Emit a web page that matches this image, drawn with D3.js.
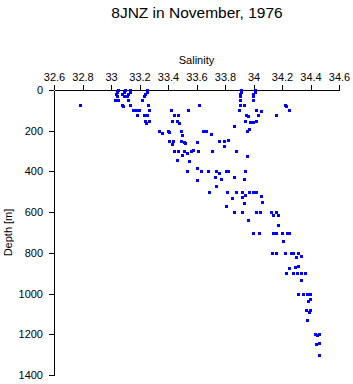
<!DOCTYPE html>
<html>
<head>
<meta charset="utf-8">
<script src="https://cdn.jsdelivr.net/npm/d3@7"></script>
<style>
  body { margin: 0; background: #fff; }
  svg { font-family: "Liberation Sans", Arial, Helvetica, sans-serif; }
  .axis path, .axis line { stroke: #000; shape-rendering: crispEdges; }
  .axis text { font-size: 11px; fill: #000; }
  .pt { fill: #0000ff; shape-rendering: crispEdges; }
</style>
</head>
<body>
<div id="chart"></div>
<script>
// Station 8JNZ, salinity profile
const salinity = [
  33.05, 33.04, 33.035, 33.04,
  33.10, 33.09, 33.08, 33.09, 33.13, 33.13, 33.12, 33.11,
  33.25, 33.25, 33.24, 33.23,
  33.91, 33.91, 33.905, 33.905,
  34.01, 34.01, 34.00, 34.00,
  33.03, 33.05, 33.12, 33.22, 33.905, 34.00,
  32.78, 33.08, 33.085, 33.13, 33.26, 33.62, 33.905, 33.93, 34.22, 34.23,
  33.155, 33.175, 33.195, 33.27, 33.42, 33.54, 33.90, 34.02, 34.05, 34.25,
  33.18, 33.23, 33.25, 33.44, 33.47, 33.95, 33.96, 34.03, 34.16,
  33.24, 33.27, 33.245, 33.43, 33.46, 33.48, 33.94, 33.975, 34.00, 34.02,
  33.86, 33.97, 33.955,
  33.34, 33.36, 33.40, 33.41, 33.49, 33.50, 33.645, 33.67, 33.70,
  33.41, 33.435, 33.43, 33.49, 33.51, 33.52, 33.60, 33.76, 33.79, 33.82, 33.79,
  33.44, 33.47, 33.51, 33.53, 33.50, 33.56, 33.575, 33.61, 33.71, 33.88, 33.955,
  33.46, 33.55,
  33.60, 33.53, 33.63, 33.68, 33.74, 33.76, 33.81, 33.82, 33.94,
  33.73, 33.77, 33.86, 33.93, 33.60, 33.74,
  33.69, 33.815, 33.88, 33.92, 33.94, 33.97, 34.00, 34.02, 34.05,
  33.85, 33.92, 33.93, 34.06, 33.81,
  33.86, 33.92, 34.02, 34.045, 34.12, 34.14, 34.16, 34.17, 33.96, 34.17,
  34.00, 34.04, 34.14, 34.16, 34.20, 34.235, 34.25, 34.21,
  34.13, 34.16, 34.22, 34.26, 34.28, 34.31, 34.33, 34.30,
  34.25, 34.29, 34.31,
  34.23, 34.28, 34.305, 34.33, 34.36, 34.33,
  34.31, 34.35, 34.375, 34.40, 34.38, 34.40,
  34.37, 34.40, 34.39, 34.375,
  34.43, 34.445, 34.46, 34.44, 34.46, 34.46
];

const depth = [
  0, 10, 20, 30,
  0, 10, 20, 30, 0, 10, 20, 30,
  0, 10, 20, 30,
  0, 10, 20, 30,
  0, 10, 20, 30,
  50, 50, 50, 50, 50, 50,
  75, 75, 80, 75, 75, 75, 75, 75, 75, 80,
  100, 100, 100, 100, 100, 100, 100, 100, 105, 100,
  125, 125, 125, 125, 125, 125, 130, 125, 125,
  150, 150, 160, 150, 150, 160, 150, 155, 155, 150,
  175, 190, 200,
  200, 210, 200, 205, 200, 220, 200, 200, 215,
  250, 250, 265, 250, 255, 260, 255, 250, 250, 245, 275,
  300, 300, 300, 310, 320, 300, 295, 300, 300, 300, 325,
  345, 350,
  385, 400, 400, 400, 400, 410, 398, 400, 400,
  427, 437, 427, 437, 442, 472,
  500, 500, 500, 500, 515, 500, 500, 500, 520,
  530, 525, 555, 550, 570,
  600, 600, 600, 600, 600, 615, 600, 615, 640, 665,
  700, 700, 700, 700, 700, 700, 700, 740,
  800, 800, 800, 800, 800, 800, 815, 820,
  875, 870, 865,
  900, 900, 900, 900, 900, 935,
  1000, 1000, 1000, 1000, 1035, 1025,
  1080, 1080, 1090, 1130,
  1200, 1205, 1200, 1250, 1243, 1300
];

const salinityTicks = [32.6, 32.8, 33, 33.2, 33.4, 33.6, 33.8, 34, 34.2, 34.4, 34.6];
const depthTicks = [0, 200, 400, 600, 800, 1000, 1200, 1400];

const titleText = '8JNZ in November, 1976';
const xLabel = 'Salinity';
const yLabel = 'Depth [m]';

const width = 353, height = 384;
const margin = {top: 90, right: 14, bottom: 9, left: 54};
const innerW = width - margin.left - margin.right;
const innerH = height - margin.top - margin.bottom;

const svg = d3.select('#chart').append('svg')
    .attr('width', width)
    .attr('height', height);

const g = svg.append('g')
    .attr('transform', `translate(${margin.left},${margin.top})`);

const x = d3.scaleLinear()
    .domain([32.6, 34.6])
    .range([0, innerW]);

const y = d3.scaleLinear()
    .domain([0, 1400])
    .range([0, innerH]);

// Axes: salinity on top, depth downward on the left
g.append('g')
    .attr('class', 'axis')
    .call(d3.axisTop(x)
      .tickValues(salinityTicks)
      .tickFormat(d3.format('~g'))
      .tickSize(5)
      .tickSizeOuter(0)
      .tickPadding(4));

g.append('g')
    .attr('class', 'axis')
    .call(d3.axisLeft(y)
      .tickValues(depthTicks)
      .tickFormat(d3.format('d'))
      .tickSize(5)
      .tickSizeOuter(0)
      .tickPadding(6));

g.selectAll('.axis').attr('font-family', null).attr('font-size', null);

// Data points
const pts = d3.zip(salinity, depth);
g.selectAll('.pt')
    .data(pts)
  .join('rect')
    .attr('class', 'pt')
    .attr('x', d => Math.round(x(d[0])) - 1)
    .attr('y', d => Math.round(y(d[1])) - 1)
    .attr('width', 3)
    .attr('height', 3);

// Labels
svg.append('text')
    .attr('x', 197)
    .attr('y', 18)
    .attr('text-anchor', 'middle')
    .attr('font-size', 15.5)
    .text(titleText);

svg.append('text')
    .attr('x', margin.left + innerW / 2)
    .attr('y', 64)
    .attr('text-anchor', 'middle')
    .attr('font-size', 11)
    .text(xLabel);

svg.append('text')
    .attr('transform', `translate(12,${margin.top + innerH / 2}) rotate(-90)`)
    .attr('text-anchor', 'middle')
    .attr('font-size', 11)
    .text(yLabel);
</script>
</body>
</html>
